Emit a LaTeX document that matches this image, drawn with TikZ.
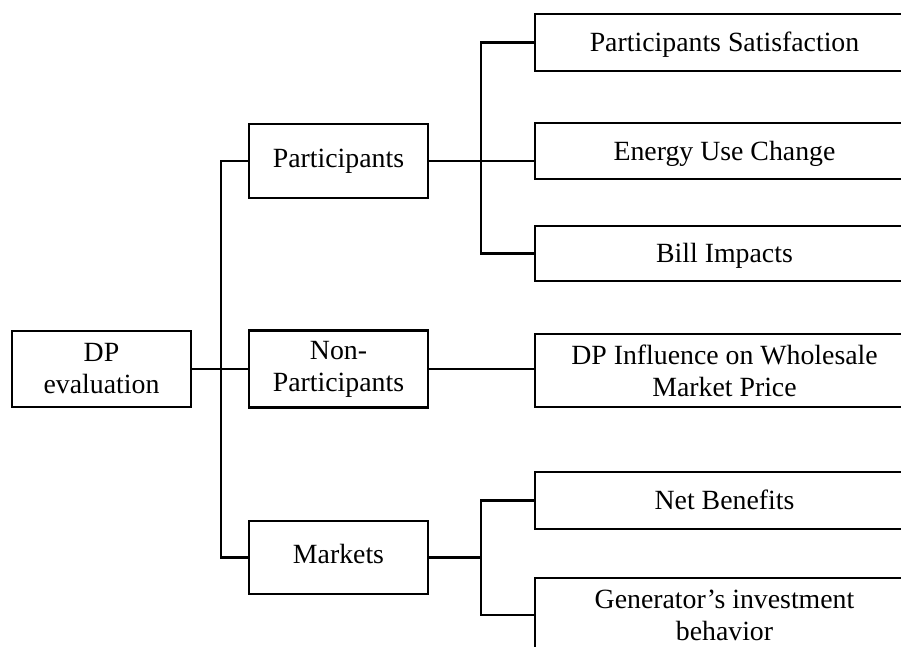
\documentclass[tikz,border=0pt]{standalone}
\usepackage{fontspec}
\setmainfont{Liberation Serif}
\begin{document}
\begin{tikzpicture}[x=1pt,y=-1pt,
  txt/.style={font=\fontsize{27.8}{32}\selectfont,align=center},
  low/.style={txt,yshift=-3pt},
  box/.style={txt,draw,line width=2.2pt,rectangle,inner sep=0pt,minimum width=179pt},
  wbox/.style={box,minimum width=379pt},
  conn/.style={line width=2.2pt}]
\clip (0,0) rectangle (901,646);
\node[box,minimum height=76pt] (root) at (101.5,369) {DP\\evaluation};
\node[box,minimum height=74pt] (part) at (338.5,161) {\raisebox{-4pt}{\strut Participants}};
\node[box,minimum height=77pt] (nonp) at (338.5,369) {Non-\\Participants};
\node[box,minimum height=73pt] (mkt) at (338.5,557.5) {\raisebox{-3pt}{\strut Markets}};
\node[wbox,minimum height=57pt] (ps) at (724.5,42.5) {};
\node[low] (pst) at (724.5,42.5) {\strut Participants Satisfaction};
\node[wbox,minimum height=56pt] (euc) at (724.5,151) {};
\node[low] (euct) at (724.5,151) {\strut Energy Use Change};
\node[wbox,minimum height=55pt] (bi) at (724.5,253.5) {};
\node[low] (bit) at (724.5,253.5) {\strut Bill Impacts};
\node[wbox,minimum height=73pt] (dpi) at (724.5,370.5) {};
\node[txt] (dpit) at (724.5,370.5) {DP Influence on Wholesale\\Market Price};
\node[wbox,minimum height=57pt] (nb) at (724.5,500.5) {};
\node[low] (nbt) at (724.5,500.5) {\strut Net Benefits};
\node[wbox,minimum height=74pt] (gen) at (724.5,615) {};
\node[txt] (gent) at (724.5,615) {Generator’s investment\\behavior};
\coordinate (t1) at (221,0);
\coordinate (t2) at (481,0);
\draw[conn] (root.east) -- (nonp.west);
\draw[conn] (part.west) -- (part.west -| t1) -- (mkt.west -| t1) -- (mkt.west);
\draw[conn] (ps.west) -- (ps.west -| t2) -- (bi.west -| t2) -- (bi.west);
\draw[conn] (part.east) -- (part.east -| euc.west);
\draw[conn] (nonp.east) -- (nonp.east -| dpi.west);
\draw[conn] (nb.west) -- (nb.west -| t2) -- (gen.west -| t2) -- (gen.west);
\draw[conn] (mkt.east) -- (mkt.east -| t2);
\end{tikzpicture}
\end{document}
